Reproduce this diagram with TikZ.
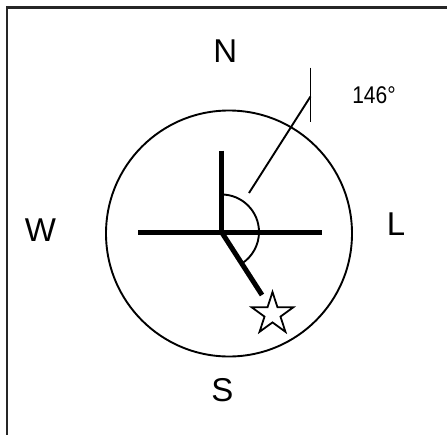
\documentclass[tikz,border=0pt]{standalone}
\usepackage{fontspec}
\setmainfont{Liberation Sans}
\usetikzlibrary{shapes.geometric}
\begin{document}
\begin{tikzpicture}[x=1pt,y=-1pt,
  thin line/.style={line width=1.9pt,black},
  thick line/.style={line width=5pt,black},
  dirlabel/.style={font=\fontsize{33}{35}\selectfont,inner sep=0pt,anchor=center},
  anglabel/.style={font=\fontsize{21}{24}\selectfont,inner sep=0pt,anchor=center}]
\useasboundingbox (0,0) rectangle (447,434);
% frame (only left and top edges visible)
\draw[line width=2.6pt,black!85] (7,440) -- (7,7.5) -- (450,7.5);
% circle
\node[draw,thin line,circle,minimum size=246pt,inner sep=0pt] (circ) at (229,233.5) {};
% cross
\coordinate (c) at (221.5,232);
\coordinate (ntop) at (221.5,150.5);
\coordinate (wend) at (138,232);
\coordinate (eend) at (322,232);
\coordinate (dend) at (262,295);
\draw[thick line] (ntop) -- (c);
\draw[thick line] (wend) -- (eend);
\draw[thick line] (c) -- (dend);
% angle arc
\draw[thin line] (c) ++(0,-37.5) arc[start angle=-90,end angle=57,radius=37.5];
% leader and tick
\coordinate (lstart) at (249,193);
\coordinate (lend) at (310.5,96.5);
\coordinate (ttop) at (310.5,67.5);
\coordinate (tbot) at (310.5,121.5);
\draw[thin line] (lstart) -- (lend);
\draw[thin line] (ttop) -- (tbot);
% star
\node[star,star points=5,star point ratio=2.618,draw,line width=1.8pt,minimum size=44pt,inner sep=0pt] (st) at (272.5,314) {};
% labels
\node[dirlabel] (N) at (225.3,51.3) {N};
\node[dirlabel] (W) at (40.5,230.3) {W};
\node[dirlabel] (L) at (396,224.2) {L};
\node[dirlabel] (S) at (222.5,390.3) {S};
\node[anglabel] (ang) at (374,95) {\scalebox{1}[1.15]{146°}};
\end{tikzpicture}
\end{document}
